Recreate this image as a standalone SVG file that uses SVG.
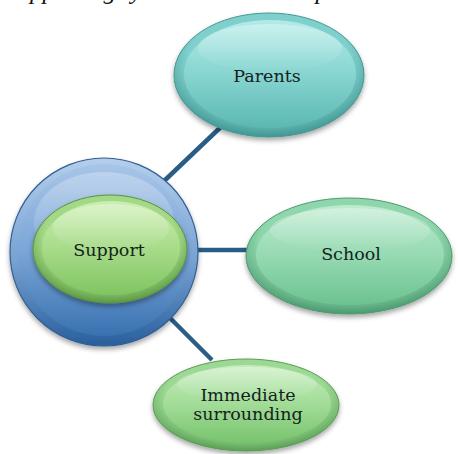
<svg xmlns="http://www.w3.org/2000/svg" width="458" height="454" viewBox="0 0 458 454">
  <style>
    .label { font-family: "DejaVu Serif", "Liberation Serif", serif; font-size: 17.5px; fill: #14221d; text-anchor: middle; }
    .caption { font-family: "Liberation Serif", serif; font-style: italic; font-size: 25px; fill: #111; }
    .link { stroke: #2a5d86; stroke-width: 4.5; stroke-linecap: butt; fill: none; }
  </style>
  <defs>
    <filter id="shadow" x="-20%" y="-20%" width="140%" height="150%">
      <feDropShadow dx="0" dy="3" stdDeviation="2.5" flood-color="#000" flood-opacity="0.35"/>
    </filter>
    <!-- teal (Parents) -->
    <radialGradient id="tealRim" cx="50%" cy="40%" r="60%">
      <stop offset="0.72" stop-color="#7fd0cc"/>
      <stop offset="1" stop-color="#3f9692"/>
    </radialGradient>
    <linearGradient id="tealFace" x1="0" y1="0" x2="0" y2="1">
      <stop offset="0" stop-color="#b2ebe8"/>
      <stop offset="0.5" stop-color="#88d5d1"/>
      <stop offset="1" stop-color="#5cb8b3"/>
    </linearGradient>
    <!-- mint (School) -->
    <radialGradient id="mintRim" cx="50%" cy="40%" r="60%">
      <stop offset="0.72" stop-color="#8fd6ad"/>
      <stop offset="1" stop-color="#4a9a6e"/>
    </radialGradient>
    <linearGradient id="mintFace" x1="0" y1="0" x2="0" y2="1">
      <stop offset="0" stop-color="#bdebd0"/>
      <stop offset="0.5" stop-color="#97dab3"/>
      <stop offset="1" stop-color="#6cc290"/>
    </linearGradient>
    <!-- light green (Immediate surrounding) -->
    <radialGradient id="leafRim" cx="50%" cy="40%" r="60%">
      <stop offset="0.72" stop-color="#9cd994"/>
      <stop offset="1" stop-color="#58a052"/>
    </radialGradient>
    <linearGradient id="leafFace" x1="0" y1="0" x2="0" y2="1">
      <stop offset="0" stop-color="#c6edbd"/>
      <stop offset="0.5" stop-color="#a2dc98"/>
      <stop offset="1" stop-color="#78c46d"/>
    </linearGradient>
    <!-- lime (Support) -->
    <radialGradient id="limeRim" cx="50%" cy="40%" r="60%">
      <stop offset="0.72" stop-color="#a3d986"/>
      <stop offset="1" stop-color="#5b9a42"/>
    </radialGradient>
    <linearGradient id="limeFace" x1="0" y1="0" x2="0" y2="1">
      <stop offset="0" stop-color="#cbeeb0"/>
      <stop offset="0.5" stop-color="#a8dc8a"/>
      <stop offset="1" stop-color="#80c561"/>
    </linearGradient>
    <!-- blue ring -->
    <linearGradient id="blueRim" x1="0" y1="0" x2="0" y2="1">
      <stop offset="0" stop-color="#b5ceec"/>
      <stop offset="0.55" stop-color="#77a1d2"/>
      <stop offset="1" stop-color="#285f9c"/>
    </linearGradient>
    <linearGradient id="blueFace" x1="0" y1="0" x2="0" y2="1">
      <stop offset="0" stop-color="#a8c5e8"/>
      <stop offset="0.5" stop-color="#7ba6d7"/>
      <stop offset="1" stop-color="#3972b1"/>
    </linearGradient>
    <linearGradient id="gloss" x1="0" y1="0" x2="0" y2="1">
      <stop offset="0" stop-color="#fff" stop-opacity="0.55"/>
      <stop offset="1" stop-color="#fff" stop-opacity="0"/>
    </linearGradient>
  </defs>

  <!-- heading line, running off the top edge so only its descenders show -->
  <text class="caption" y="-1"><tspan x="5">Supporting</tspan><tspan x="131">your</tspan><tspan x="179">child's development</tspan></text>

  <g id="connectors">
    <line class="link" x1="163" y1="182" x2="224" y2="124"/>
    <line class="link" x1="198" y1="250" x2="250" y2="250"/>
    <line class="link" x1="168" y1="316" x2="212" y2="360"/>
  </g>

  <g id="node-support">
    <circle cx="104" cy="252" r="94" fill="url(#blueRim)" stroke="#2f5f92" stroke-width="1.2" filter="url(#shadow)"/>
    <circle cx="104" cy="250" r="86" fill="url(#blueFace)"/>
    <ellipse cx="104" cy="222" rx="70" ry="50" fill="url(#gloss)" opacity="0.5"/>
    <ellipse cx="110" cy="249" rx="77" ry="54" fill="url(#limeRim)" stroke="#5d8f45" stroke-width="1" filter="url(#shadow)"/>
    <ellipse cx="111" cy="248" rx="69" ry="47" fill="url(#limeFace)"/>
    <ellipse cx="111" cy="228" rx="58" ry="24" fill="url(#gloss)" opacity="0.6"/>
    <text class="label" x="109" y="256">Support</text>
  </g>

  <g id="node-parents">
    <ellipse cx="269" cy="75" rx="95" ry="62" fill="url(#tealRim)" stroke="#46978f" stroke-width="1" filter="url(#shadow)"/>
    <ellipse cx="270" cy="74" rx="86" ry="54" fill="url(#tealFace)"/>
    <ellipse cx="270" cy="48" rx="72" ry="24" fill="url(#gloss)" opacity="0.6"/>
    <text class="label" x="267" y="82">Parents</text>
  </g>

  <g id="node-school">
    <ellipse cx="349" cy="256" rx="103" ry="58" fill="url(#mintRim)" stroke="#4f9a70" stroke-width="1" filter="url(#shadow)"/>
    <ellipse cx="350" cy="255" rx="94" ry="50" fill="url(#mintFace)"/>
    <ellipse cx="350" cy="230" rx="80" ry="22" fill="url(#gloss)" opacity="0.6"/>
    <text class="label" x="351" y="260">School</text>
  </g>

  <g id="node-immediate">
    <ellipse cx="246" cy="405" rx="93" ry="46" fill="url(#leafRim)" stroke="#5b9a55" stroke-width="1" filter="url(#shadow)"/>
    <ellipse cx="247" cy="404" rx="84" ry="39" fill="url(#leafFace)"/>
    <ellipse cx="247" cy="384" rx="70" ry="17" fill="url(#gloss)" opacity="0.6"/>
    <text class="label" x="248" y="401">Immediate</text>
    <text class="label" x="248" y="420">surrounding</text>
  </g>
</svg>
